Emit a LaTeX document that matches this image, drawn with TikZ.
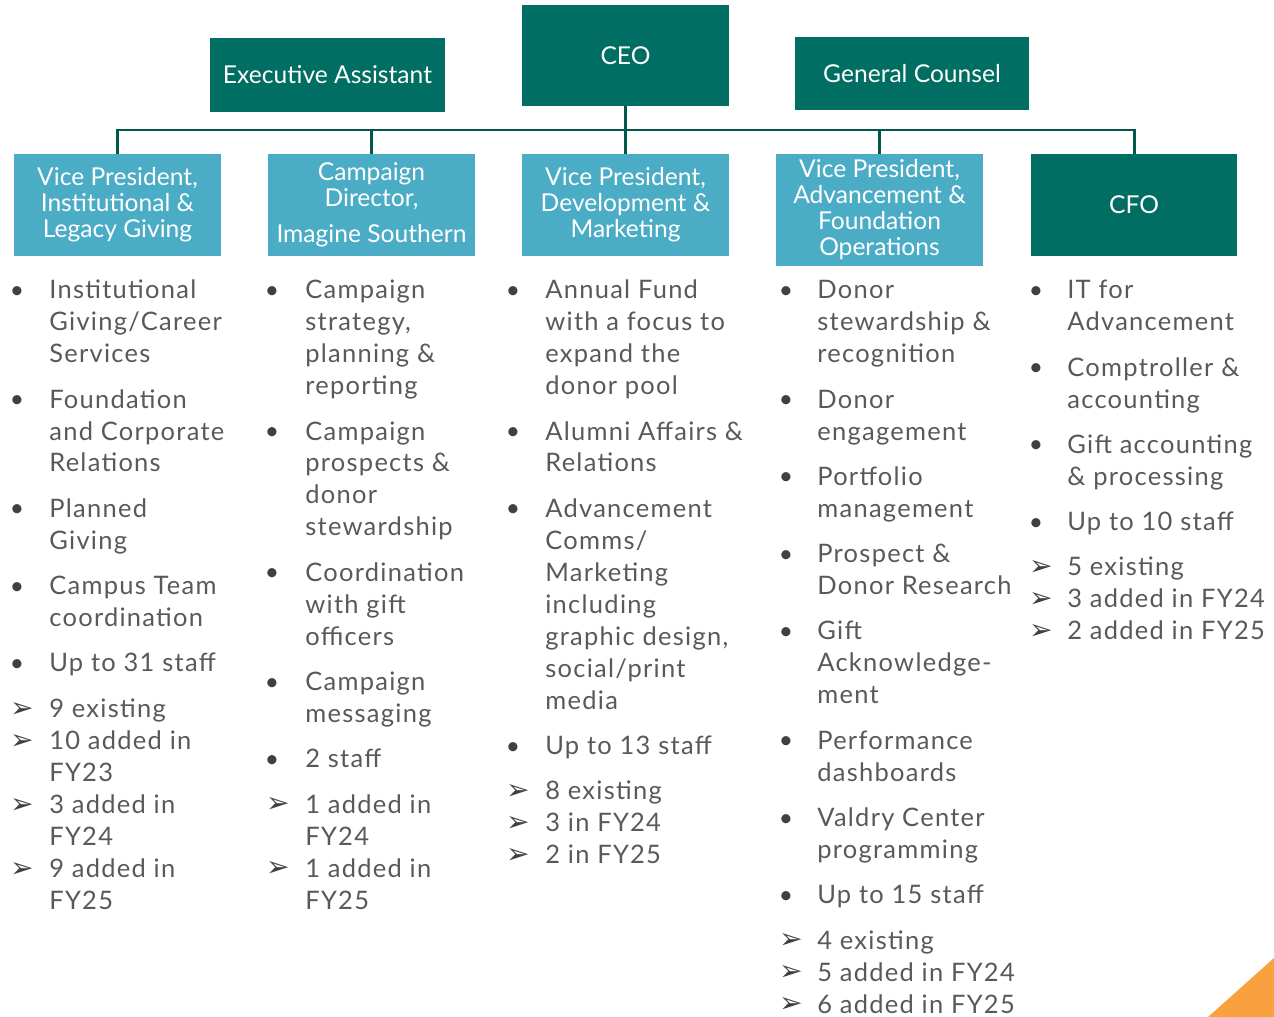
\documentclass[tikz,border=0pt]{standalone}
\usepackage{fontspec}
\setmainfont{Lato}
\newfontfamily\listfont{Lato}[LetterSpace=5]
\newfontfamily\symfont{DejaVu Sans}
\usepackage{tikz}
\usetikzlibrary{positioning}
\definecolor{darkteal}{HTML}{006E62}
\definecolor{linkteal}{HTML}{00574B}
\definecolor{lightblue}{HTML}{4BACC6}
\definecolor{bodygray}{HTML}{595959}
\definecolor{markgray}{HTML}{404040}
\definecolor{cornerorange}{HTML}{F9A03F}
\newcommand{\itemgap}{7.6pt}
\tikzset{
box/.style={ % Sets the properties for each box
inner sep=0pt,
align=center,
text=white,
font=\fontsize{14}{14.8}\selectfont},
headbox/.style={box, fill=darkteal},
vpbox/.style={box, fill=lightblue, minimum width=4.14cm, minimum height=2.04cm},
link/.style={draw=linkteal, line width=1.7pt},
duties/.style={ % list text below each box
anchor=north west,
inner sep=0pt,
align=left,
text=bodygray,
font=\listfont\fontsize{14.5}{18.2}\selectfont},
dot/.style={anchor=base, inner sep=0pt, text=markgray,
font=\fontsize{14}{18.2}\selectfont},
arrowmark/.style={anchor=base, inner sep=0pt, text=markgray,
font=\symfont\fontsize{16}{18.2}\selectfont}}

\begin{document}
\begin{tikzpicture}[x=0.02cm, y=-0.02cm]
\useasboundingbox (0,0) rectangle (1274,1017);
% top row
\node[headbox, minimum width=4.14cm, minimum height=2.02cm] (ceo) at (625.5,55.5) {CEO};
\node[headbox, minimum width=4.7cm, minimum height=1.48cm] (ea) at (327.5,75) {Executive Assistant};
\node[headbox, minimum width=4.68cm, minimum height=1.46cm] (gc) at (912,73.5) {General Counsel};
% second row
\node[vpbox] (vp1) at (117.5,205) {Vice President,\\Institutional \&\\Legacy Giving};
\node[vpbox] (vp2) at (371.5,205) {Campaign\\Director,\\[5.7pt]Imagine Southern};
\node[vpbox] (vp3) at (625.5,205) {Vice President,\\Development \&\\Marketing};
\node[vpbox, minimum height=2.24cm] (vp4) at (879.5,210) {Vice President,\\Advancement \&\\Foundation\\Operations};
\node[vpbox, fill=darkteal] (cfo) at (1134,205) {CFO};
% connectors
\coordinate (bus) at (625.5,130);
\draw[link] (vp1.north) |- (bus) -| (cfo.north);
\draw[link] (ceo.south) -- (vp3.north);
\draw[link] (vp2.north) -- (vp2.north |- bus);
\draw[link] (vp4.north) -- (vp4.north |- bus);
% duties
\node[duties] (list1) at (49,276) {\strut Institutional\\Giving/Career\\Services\\[\itemgap]Foundation\\and Corporate\\Relations\\[\itemgap]Planned\\Giving\\[\itemgap]Campus Team\\coordination\\[\itemgap]Up to 31 staff\\[\itemgap]9 existing\\10 added in\\FY23\\3 added in\\FY24\\9 added in\\FY25};
\node[duties] (list2) at (305,276) {\strut Campaign\\strategy,\\planning \&\\reporting\\[\itemgap]Campaign\\prospects \&\\donor\\stewardship\\[\itemgap]Coordination\\with gift\\officers\\[\itemgap]Campaign\\messaging\\[\itemgap]2 staff\\[\itemgap]1 added in\\FY24\\1 added in\\FY25};
\node[duties] (list3) at (545,276) {\strut Annual Fund\\with a focus to\\expand the\\donor pool\\[\itemgap]Alumni Affairs \&\\Relations\\[\itemgap]Advancement\\Comms/\\Marketing\\including\\graphic design,\\social/print\\media\\[\itemgap]Up to 13 staff\\[\itemgap]8 existing\\3 in FY24\\2 in FY25};
\node[duties] (list4) at (817,276) {\strut Donor\\stewardship \&\\recognition\\[\itemgap]Donor\\engagement\\[\itemgap]Portfolio\\management\\[\itemgap]Prospect \&\\Donor Research\\[\itemgap]Gift\\Acknowledge-\\ment\\[\itemgap]Performance\\dashboards\\[\itemgap]Valdry Center\\programming\\[\itemgap]Up to 15 staff\\[\itemgap]4 existing\\5 added in FY24\\6 added in FY25};
\node[duties] (list5) at (1067,276) {\strut IT for\\Advancement\\[\itemgap]Comptroller \&\\accounting\\[\itemgap]Gift accounting\\\& processing\\[\itemgap]Up to 10 staff\\[\itemgap]5 existing\\3 added in FY24\\2 added in FY25};
% bullets and arrows
\foreach \y in {291,400,509,587,664} \node[dot] (b1-\y) at (17,\y+7.5) {•};
\foreach \y in {710,742,806,870} \node[arrowmark] (a1-\y) at (22,\y+7.5) {➢};
\foreach \y in {291,432,573,683,760} \node[dot] (b2-\y) at (272,\y+7.5) {•};
\foreach \y in {805,869} \node[arrowmark] (a2-\y) at (278,\y+7.5) {➢};
\foreach \y in {291,432,509,747} \node[dot] (b3-\y) at (513,\y+7.5) {•};
\foreach \y in {792,824,856} \node[arrowmark] (a3-\y) at (518,\y+7.5) {➢};
\foreach \y in {291,400,477,555,632,741,819,896} \node[dot] (b4-\y) at (786,\y+7.5) {•};
\foreach \y in {941,973,1005} \node[arrowmark] (a4-\y) at (791,\y+7.5) {➢};
\foreach \y in {291,368,445,523} \node[dot] (b5-\y) at (1036,\y+7.5) {•};
\foreach \y in {568,600,632} \node[arrowmark] (a5-\y) at (1041,\y+7.5) {➢};
% corner
\fill[cornerorange] (1208,1017) -- (1274,958) -- (1274,1017) -- cycle;
\end{tikzpicture}
\end{document}
